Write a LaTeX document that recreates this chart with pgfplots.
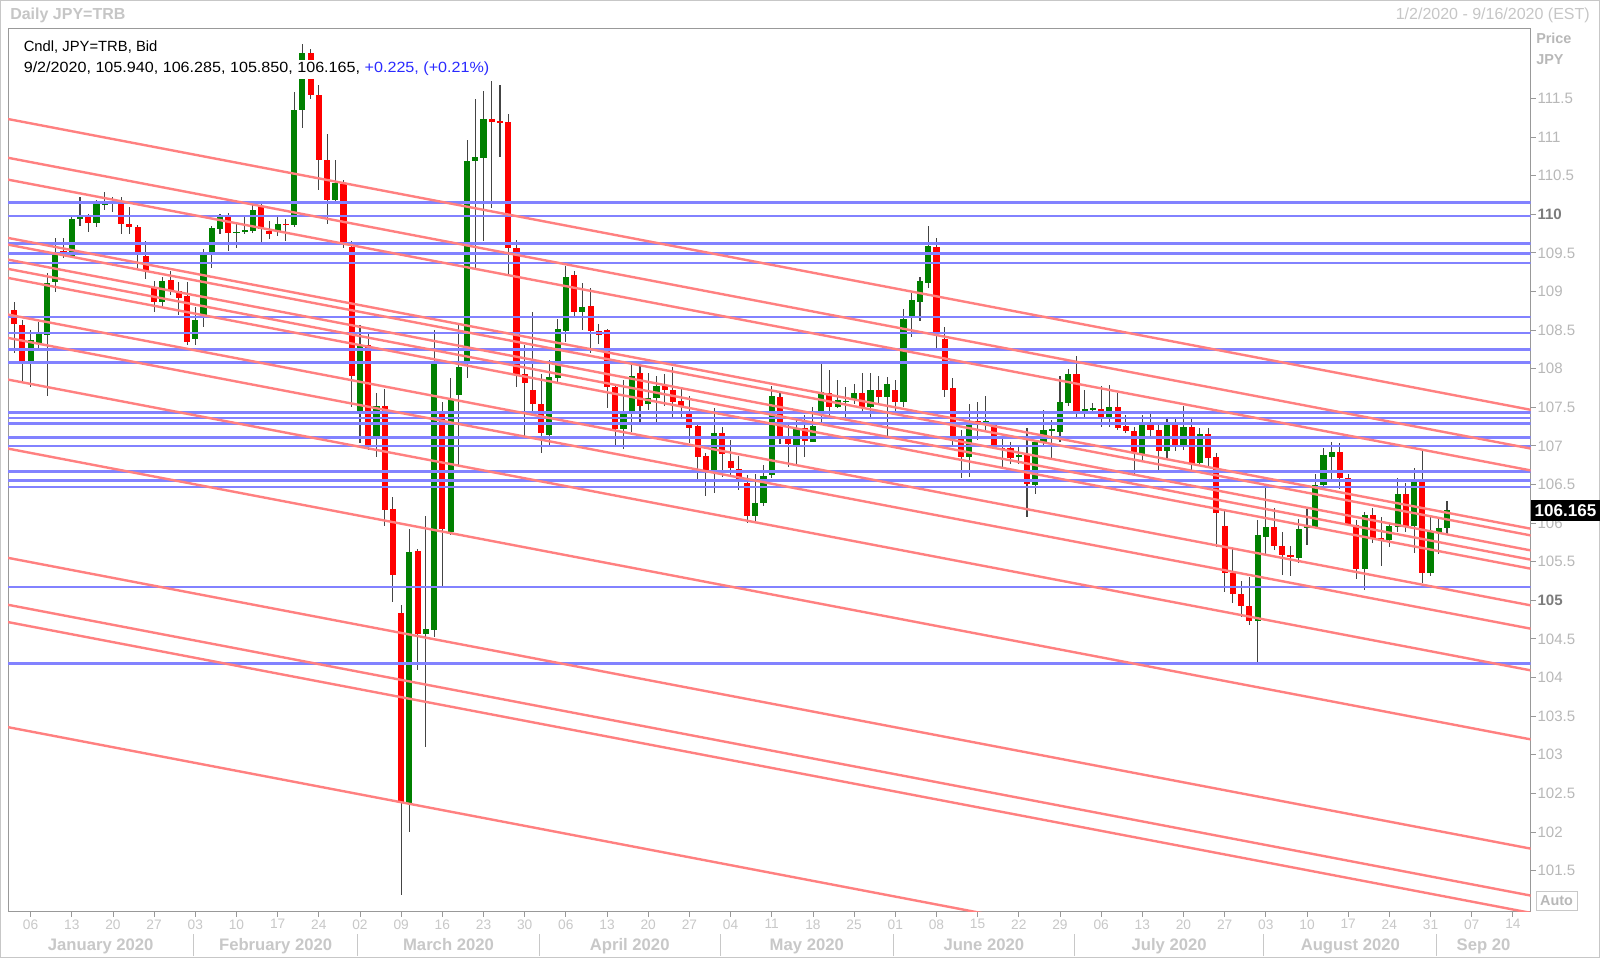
\documentclass[border=0pt]{standalone}
\usepackage{fontspec}
\setmainfont{Liberation Sans}
\usepackage{pgfplots}
\pgfplotsset{compat=1.18}
\usepackage{pgfplotstable}
\definecolor{upc}{HTML}{008000}
\definecolor{dnc}{HTML}{FF0000}
\definecolor{wickc}{HTML}{444444}
\definecolor{redl}{HTML}{FF8080}
\definecolor{bluel}{HTML}{8282FF}
\definecolor{lblgray}{HTML}{B8B8B8}
\definecolor{daygray}{HTML}{C8C8C8}
\definecolor{boldgray}{HTML}{7C7C7C}
\definecolor{framegray}{HTML}{999999}
\definecolor{titlegray}{HTML}{C6C6C6}
\definecolor{bluetext}{HTML}{2A2AFF}
\newcommand{\bl}[1]{\textbf{\textcolor{boldgray}{#1}}}

\pgfplotstableread{
i o h l c
0 108.76 108.87 108.21 108.575
1 108.57 108.63 107.84 108.10
2 108.10 108.50 107.76 108.37
3 108.34 108.61 108.26 108.45
4 108.44 109.24 107.65 109.11
5 109.13 109.69 109.00 109.50
6 109.52 109.69 109.43 109.46
7 109.46 109.97 109.44 109.94
8 109.94 110.22 109.85 109.96
9 109.96 110.01 109.77 109.89
10 109.89 110.19 109.83 110.13
11 110.13 110.29 110.06 110.14
12 110.14 110.22 110.03 110.16
13 110.17 110.22 109.75 109.87
14 109.87 110.10 109.75 109.84
15 109.84 109.86 109.29 109.50
16 109.46 109.65 109.16 109.27
17 109.06 109.13 108.73 108.87
18 108.87 109.19 108.80 109.13
19 109.15 109.26 108.95 109.01
20 109.01 109.13 108.70 108.92
21 108.94 109.13 108.31 108.34
22 108.38 108.80 108.31 108.63
23 108.68 109.55 108.54 109.47
24 109.47 109.85 109.30 109.82
25 109.81 110.01 109.74 109.96
26 109.96 110.02 109.52 109.76
27 109.76 109.89 109.56 109.77
28 109.77 109.96 109.75 109.80
29 109.79 110.13 109.76 110.06
30 110.09 110.13 109.63 109.81
31 109.79 109.91 109.68 109.75
32 109.78 109.96 109.72 109.87
33 109.88 109.94 109.65 109.86
34 109.86 111.58 109.83 111.35
35 111.35 112.21 111.12 112.09
36 112.09 112.14 111.49 111.55
37 111.55 111.68 110.32 110.70
38 110.70 111.04 109.87 110.19
39 110.19 110.70 110.13 110.40
40 110.39 110.44 109.57 109.61
41 109.58 109.65 107.51 107.90
42 107.44 108.57 107.04 108.31
43 108.31 108.48 106.95 107.01
44 107.09 107.69 106.86 107.52
45 107.52 107.74 105.96 106.17
46 106.18 106.34 104.98 105.33
47 104.84 104.94 101.18 102.37
48 102.38 105.93 102.00 105.62
49 105.64 105.67 104.10 104.57
50 104.56 106.09 103.10 104.63
51 104.61 108.50 104.53 108.06
52 107.43 107.57 105.18 105.92
53 105.89 107.88 105.85 107.60
54 107.66 108.59 106.75 108.02
55 108.06 110.96 107.88 110.69
56 110.69 111.50 109.30 110.74
57 110.73 111.60 109.65 111.23
58 111.23 111.72 110.08 111.20
59 111.21 111.68 110.74 111.18
60 111.19 111.30 109.21 109.56
61 109.56 109.67 107.77 107.92
62 107.93 108.31 107.13 107.81
63 107.73 108.73 107.42 107.54
64 107.54 107.93 106.91 107.17
65 107.14 108.11 107.01 107.89
66 107.88 108.64 107.82 108.52
67 108.49 109.33 108.35 109.19
68 109.21 109.27 108.67 108.73
69 108.74 109.11 108.50 108.80
70 108.81 109.05 108.21 108.49
71 108.49 108.58 108.32 108.44
72 108.50 108.52 107.49 107.77
73 107.76 107.77 107.01 107.22
74 107.22 107.85 106.96 107.41
75 107.41 108.05 107.18 107.91
76 107.95 108.05 107.31 107.52
77 107.54 107.95 107.47 107.62
78 107.62 107.91 107.31 107.78
79 107.79 107.93 107.52 107.72
80 107.73 108.02 107.38 107.57
81 107.58 107.77 107.36 107.51
82 107.45 107.64 107.04 107.23
83 107.26 107.30 106.56 106.86
84 106.87 106.91 106.35 106.69
85 106.69 107.49 106.39 107.17
86 107.17 107.25 106.60 106.90
87 106.81 107.08 106.61 106.72
88 106.70 106.87 106.43 106.56
89 106.52 106.62 106.00 106.09
90 106.09 106.64 106.00 106.26
91 106.26 106.75 106.22 106.61
92 106.62 107.77 106.58 107.65
93 107.64 107.69 107.03 107.13
94 107.11 107.27 106.73 107.02
95 107.01 107.38 106.75 107.23
96 107.23 107.40 106.86 107.06
97 107.05 107.51 107.05 107.26
98 107.44 108.06 107.31 107.70
99 107.68 107.98 107.38 107.50
100 107.51 107.85 107.49 107.59
101 107.58 107.77 107.36 107.58
102 107.59 107.80 107.55 107.69
103 107.69 107.94 107.41 107.51
104 107.51 107.95 107.36 107.72
105 107.72 107.91 107.56 107.63
106 107.63 107.89 107.13 107.80
107 107.72 107.86 107.44 107.57
108 107.57 108.77 107.51 108.64
109 108.67 108.98 108.41 108.89
110 108.87 109.19 108.62 109.13
111 109.11 109.85 109.04 109.59
112 109.57 109.69 108.26 108.47
113 108.39 108.54 107.63 107.73
114 107.75 107.88 107.01 107.12
115 107.10 107.21 106.58 106.86
116 106.86 107.55 106.60 107.31
117 107.32 107.57 107.08 107.30
118 107.31 107.65 107.21 107.32
119 107.27 107.28 106.97 107.01
120 106.98 107.10 106.71 106.96
121 106.97 107.05 106.77 106.85
122 106.87 106.99 106.77 106.88
123 106.90 107.23 106.08 106.51
124 106.49 107.07 106.38 107.05
125 107.05 107.47 107.01 107.21
126 107.20 107.34 106.83 107.22
127 107.18 107.90 107.05 107.57
128 107.56 107.99 107.52 107.93
129 107.93 108.16 107.36 107.45
130 107.45 107.72 107.37 107.48
131 107.48 107.56 107.45 107.49
132 107.48 107.78 107.25 107.37
133 107.37 107.79 107.24 107.50
134 107.50 107.69 107.21 107.23
135 107.26 107.40 107.17 107.19
136 107.20 107.24 106.62 106.91
137 106.90 107.40 106.82 107.27
138 107.27 107.41 107.13 107.21
139 107.21 107.31 106.69 106.93
140 106.93 107.38 106.84 107.27
141 107.27 107.37 106.94 107.01
142 107.01 107.52 106.95 107.24
143 107.24 107.38 106.69 106.77
144 106.78 107.23 106.76 107.15
145 107.15 107.23 106.73 106.84
146 106.86 106.91 105.69 106.13
147 105.96 106.19 105.11 105.36
148 105.36 105.66 104.96 105.08
149 105.08 105.25 104.79 104.93
150 104.93 105.30 104.68 104.73
151 104.73 106.04 104.20 105.85
152 105.82 106.45 105.59 105.95
153 105.95 106.20 105.65 105.70
154 105.70 105.88 105.33 105.59
155 105.59 105.70 105.31 105.56
156 105.55 106.05 105.48 105.92
157 105.93 106.19 105.72 105.96
158 105.95 106.64 105.95 106.49
159 106.49 106.98 106.45 106.88
160 106.86 107.05 106.56 106.92
161 106.92 107.04 106.44 106.58
162 106.58 106.64 105.97 105.97
163 105.98 106.04 105.28 105.40
164 105.41 106.15 105.13 106.11
165 106.11 106.19 105.74 105.80
166 105.80 106.08 105.44 105.79
167 105.78 106.00 105.69 105.96
168 105.95 106.58 105.89 106.38
169 106.38 106.52 105.88 105.96
170 105.96 106.71 105.61 106.57
171 106.57 106.95 105.23 105.35
172 105.35 106.09 105.31 105.89
173 105.89 106.05 105.60 105.94
174 105.94 106.285 105.85 106.165
}\ohlc

\begin{document}
\begin{tikzpicture}
\begin{scope}[x=0.75pt,y=0.75pt]
\path[use as bounding box] (0,0) rectangle (1600,958);
\fill[white] (0,0) rectangle (1600,958);
\end{scope}
\begin{axis}[
  at={(6.15pt,35.1pt)}, anchor=south west,
  scale only axis, width=1141.8pt, height=661.95pt,
  xmin=-0.72, xmax=184.15, ymin=100.973, ymax=112.405,
  axis line style={framegray, line width=0.9pt},
  tick style={framegray, line width=0.6pt},
  tick align=outside, major tick length=4pt,
  ytick={101.5,102,102.5,103,103.5,104,104.5,105,105.5,106,106.5,107,107.5,108,108.5,109,109.5,110,110.5,111,111.5},
  yticklabels={101.5,102,102.5,103,103.5,104,104.5,\bl{105},105.5,106,106.5,107,107.5,108,108.5,109,109.5,\bl{110},110.5,111,111.5},
  ytick pos=right, yticklabel pos=right,
  yticklabel style={font=\fontsize{11.3}{13}\selectfont, text=lblgray, anchor=west, inner xsep=1pt},
  xtick={2,7,...,182},
  xticklabels={06,13,20,27,03,10,17,24,02,09,16,23,30,06,13,20,27,04,11,18,25,01,08,15,22,29,06,13,20,27,03,10,17,24,31,07,14},
  xtick pos=left,
  xticklabel style={font=\fontsize{10.3}{12}\selectfont, text=daygray, inner ysep=2pt},
]
% wicks
\addplot[draw=none, mark=none, error bars/.cd, y dir=both, y explicit, error mark=none,
  error bar style={draw=wickc, line width=0.8pt}]
  table[x=i, y expr={(\thisrow{h}+\thisrow{l})/2}, y error expr={(\thisrow{h}-\thisrow{l})/2}] {\ohlc};
% up bodies
\addplot[draw=none, mark=none, restrict expr to domain={\thisrow{c}-\thisrow{o}}{0:100},
  error bars/.cd, y dir=both, y explicit, error mark=none,
  error bar style={draw=upc, line width=4.6pt}]
  table[x=i, y expr={(\thisrow{o}+\thisrow{c})/2}, y error expr={max(abs(\thisrow{c}-\thisrow{o})/2,0.008)}] {\ohlc};
% down bodies
\addplot[draw=none, mark=none, restrict expr to domain={\thisrow{c}-\thisrow{o}}{-100:-0.0001},
  error bars/.cd, y dir=both, y explicit, error mark=none,
  error bar style={draw=dnc, line width=4.6pt}]
  table[x=i, y expr={(\thisrow{o}+\thisrow{c})/2}, y error expr={max(abs(\thisrow{c}-\thisrow{o})/2,0.008)}] {\ohlc};
% horizontal lines
\addplot[bluel, line width=1.9pt] coordinates {(-1,110.15) (186,110.15)};
\addplot[bluel, line width=1.9pt] coordinates {(-1,109.98) (186,109.98)};
\addplot[bluel, line width=1.9pt] coordinates {(-1,109.62) (186,109.62)};
\addplot[bluel, line width=1.9pt] coordinates {(-1,109.49) (186,109.49)};
\addplot[bluel, line width=1.9pt] coordinates {(-1,109.37) (186,109.37)};
\addplot[bluel, line width=1.9pt] coordinates {(-1,108.67) (186,108.67)};
\addplot[bluel, line width=1.9pt] coordinates {(-1,108.46) (186,108.46)};
\addplot[bluel, line width=1.9pt] coordinates {(-1,108.25) (186,108.25)};
\addplot[bluel, line width=1.9pt] coordinates {(-1,108.08) (186,108.08)};
\addplot[bluel, line width=1.9pt] coordinates {(-1,107.43) (186,107.43)};
\addplot[bluel, line width=1.9pt] coordinates {(-1,107.36) (186,107.36)};
\addplot[bluel, line width=1.9pt] coordinates {(-1,107.29) (186,107.29)};
\addplot[bluel, line width=1.9pt] coordinates {(-1,107.11) (186,107.11)};
\addplot[bluel, line width=1.9pt] coordinates {(-1,107.00) (186,107.00)};
\addplot[bluel, line width=1.9pt] coordinates {(-1,106.67) (186,106.67)};
\addplot[bluel, line width=1.9pt] coordinates {(-1,106.55) (186,106.55)};
\addplot[bluel, line width=1.9pt] coordinates {(-1,106.47) (186,106.47)};
\addplot[bluel, line width=1.9pt] coordinates {(-1,105.17) (186,105.17)};
\addplot[bluel, line width=1.9pt] coordinates {(-1,104.18) (186,104.18)};
% diagonal trend lines
\addplot[redl, line width=1.8pt] coordinates {(-1,111.239) (186,107.430)};
\addplot[redl, line width=1.8pt] coordinates {(-1,110.737) (186,106.928)};
\addplot[redl, line width=1.8pt] coordinates {(-1,110.454) (186,106.645)};
\addplot[redl, line width=1.8pt] coordinates {(-1,109.699) (186,105.890)};
\addplot[redl, line width=1.8pt] coordinates {(-1,109.612) (186,105.803)};
\addplot[redl, line width=1.8pt] coordinates {(-1,109.418) (186,105.609)};
\addplot[redl, line width=1.8pt] coordinates {(-1,109.298) (186,105.489)};
\addplot[redl, line width=1.8pt] coordinates {(-1,109.181) (186,105.372)};
\addplot[redl, line width=1.8pt] coordinates {(-1,108.706) (186,104.897)};
\addplot[redl, line width=1.8pt] coordinates {(-1,108.404) (186,104.595)};
\addplot[redl, line width=1.8pt] coordinates {(-1,107.864) (186,104.055)};
\addplot[redl, line width=1.8pt] coordinates {(-1,106.970) (186,103.161)};
\addplot[redl, line width=1.8pt] coordinates {(-1,105.555) (186,101.746)};
\addplot[redl, line width=1.8pt] coordinates {(-1,104.947) (186,101.138)};
\addplot[redl, line width=1.8pt] coordinates {(-1,104.723) (186,100.914)};
\addplot[redl, line width=1.8pt] coordinates {(-1,103.362) (186,99.553)};
\end{axis}
\begin{scope}[x=0.75pt,y=0.75pt]
% outer frame
\draw[framegray!55, line width=0.75pt] (0.5,0.5) rectangle (1599.5,957.5);
% titles
\node[anchor=base west, inner sep=0pt, text=titlegray, font=\fontsize{12}{14}\selectfont\bfseries] at (10,938.5) {Daily JPY=TRB};
\node[anchor=base east, inner sep=0pt, text=titlegray, font=\fontsize{12}{14}\selectfont] at (1590,938.5) {1/2/2020 - 9/16/2020 (EST)};
% info text
\node[anchor=base west, inner sep=0pt, font=\fontsize{11.1}{13}\selectfont] at (23.5,906.5) {Cndl, JPY=TRB, Bid};
\node[anchor=base west, fill=white, inner xsep=0pt, inner ysep=2pt, xscale=1.09, font=\fontsize{11.1}{13}\selectfont] at (23.5,885) {9/2/2020, 105.940, 106.285, 105.850, 106.165, \textcolor{bluetext}{+0.225, (+0.21\%)}};
% right header
\node[anchor=base west, inner sep=0pt, text=lblgray, font=\fontsize{10.8}{13}\selectfont\bfseries] at (1536,914.5) {Price};
\node[anchor=base west, inner sep=0pt, text=lblgray, font=\fontsize{10.8}{13}\selectfont\bfseries] at (1536,893.5) {JPY};
% last price box
\fill[black] (1530.6,437) rectangle (1600,458);
\node[text=white, inner sep=0pt, font=\fontsize{12.8}{14}\selectfont\bfseries] at (1565.5,447.5) {106.165};
% Auto box
\draw[daygray, line width=0.75pt] (1536,47.5) rectangle (1577,67);
\node[text=lblgray, inner sep=0pt, font=\fontsize{10.8}{13}\selectfont\bfseries] at (1556.5,57.2) {Auto};
% month row
\foreach \xx in {193.2,357.9,539.1,720.3,893.2,1074.4,1263.8,1436.7} {
  \draw[daygray, line width=0.75pt] (\xx,2) -- (\xx,24);
}
\foreach \xx/\mm in {100.7/January 2020,275.6/February 2020,448.5/March 2020,629.7/April 2020,806.8/May 2020,983.8/June 2020,1169.1/July 2020,1350.3/August 2020,1483.6/Sep 20} {
  \node[anchor=base, text=daygray, inner sep=0pt, font=\fontsize{12.5}{14}\selectfont\bfseries] at (\xx,7.5) {\mm};
}
\end{scope}
\end{tikzpicture}
\end{document}
